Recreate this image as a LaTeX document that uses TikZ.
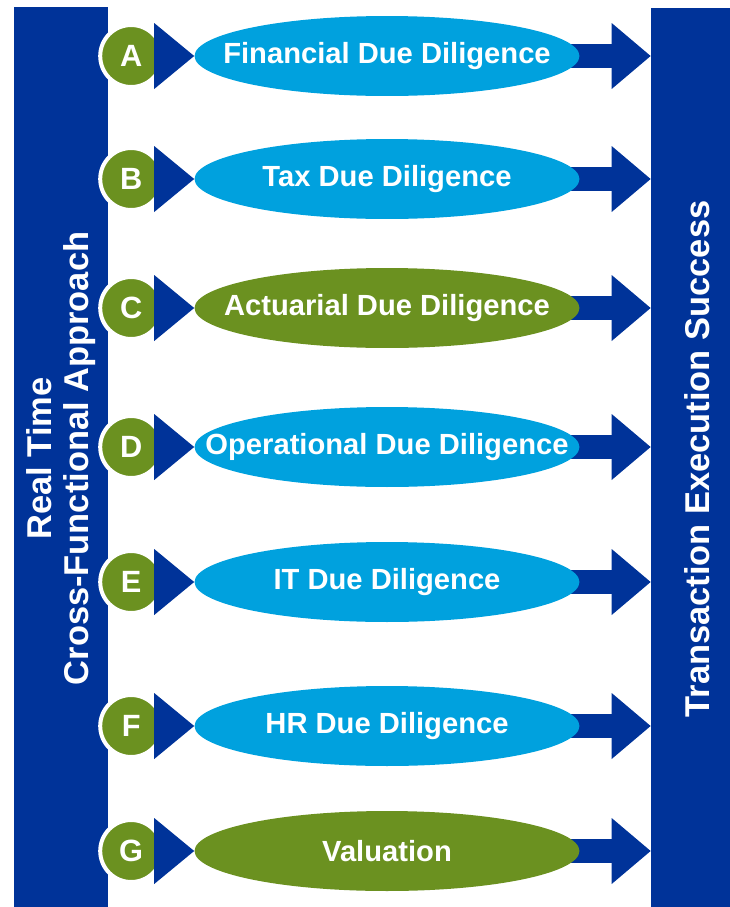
\documentclass[tikz,border=0pt]{standalone}
\usepackage{fontspec}
\setmainfont{Liberation Sans}
\usetikzlibrary{shapes.geometric,arrows.meta,positioning,backgrounds}
\definecolor{dblue}{RGB}{0,51,153}
\definecolor{lblue}{RGB}{0,161,222}
\definecolor{dgreen}{RGB}{107,145,32}

\tikzset{
  sidebar/.style={fill=dblue, rotate=90, inner sep=0pt, text=white, align=center,
    font=\fontsize{19.6}{21}\selectfont\bfseries},
  dd/.style={ellipse, minimum width=7.7cm, minimum height=1.6cm, inner sep=0pt},
  ddtext/.style={text=white, font=\fontsize{16.6}{20}\selectfont\bfseries},
  badge/.style={circle, fill=dgreen, draw=white, line width=0.08cm, minimum size=1.24cm,
    inner sep=0pt, outer sep=0pt, text=white, font=\fontsize{17.5}{20}\selectfont\bfseries},
  bigarrow/.style={draw=dblue, line width=0.48cm,
    -{Triangle[width=1.32cm,length=0.78cm,line width=0pt]}}
}

\begin{document}
\begin{tikzpicture}[x=0.02cm,y=-0.02cm]
\useasboundingbox (0,0) rectangle (730,907);

% the two side bars
\node[sidebar, minimum width=18.06cm, minimum height=1.88cm] (rtc) at (61,458.5)
  {Real Time\\Cross-Functional Approach};
\node[sidebar, minimum width=18.04cm, minimum height=1.84cm] (tes) at (697,459)
  {Transaction Execution Success};

% one ellipse per workstream
\node[dd, fill=lblue, label={[ddtext]center:Financial Due Diligence}] (fin) at (387,56) {};
\node[dd, fill=lblue, label={[ddtext]center:Tax Due Diligence}] (tax) at (387,179) {};
\node[dd, fill=dgreen, label={[ddtext]center:Actuarial Due Diligence}] (act) at (387,308) {};
\node[dd, fill=lblue, label={[ddtext]center:Operational Due Diligence}] (ops) at (387,447) {};
\node[dd, fill=lblue, label={[ddtext]center:IT Due Diligence}] (itd) at (387,582) {};
\node[dd, fill=lblue, label={[ddtext]center:HR Due Diligence}] (hrd) at (387,726) {};
\node[dd, fill=dgreen, label={[ddtext]center:Valuation}] (val) at (387,851) {};

% letters
\node[badge, left=0.64cm of fin] (ba) {A};
\node[badge, left=0.64cm of tax] (bb) {B};
\node[badge, left=0.64cm of act] (bc) {C};
\node[badge, left=0.64cm of ops] (bd) {D};
\node[badge, left=0.64cm of itd] (be) {E};
\node[badge, left=0.64cm of hrd] (bf) {F};
\node[badge, left=0.64cm of val] (bg) {G};

% chevrons into the ellipses
\fill[dblue] (fin.west) -- ++(-40,-33) -- ++(0,66) -- cycle;
\fill[dblue] (tax.west) -- ++(-40,-33) -- ++(0,66) -- cycle;
\fill[dblue] (act.west) -- ++(-40,-33) -- ++(0,66) -- cycle;
\fill[dblue] (ops.west) -- ++(-40,-33) -- ++(0,66) -- cycle;
\fill[dblue] (itd.west) -- ++(-40,-33) -- ++(0,66) -- cycle;
\fill[dblue] (hrd.west) -- ++(-40,-33) -- ++(0,66) -- cycle;
\fill[dblue] (val.west) -- ++(-40,-33) -- ++(0,66) -- cycle;

% arrows to the right bar, kept behind the ellipses
\begin{scope}[on background layer]
\draw[bigarrow] (fin.center) -- (fin.center -| tes.north);
\draw[bigarrow] (tax.center) -- (tax.center -| tes.north);
\draw[bigarrow] (act.center) -- (act.center -| tes.north);
\draw[bigarrow] (ops.center) -- (ops.center -| tes.north);
\draw[bigarrow] (itd.center) -- (itd.center -| tes.north);
\draw[bigarrow] (hrd.center) -- (hrd.center -| tes.north);
\draw[bigarrow] (val.center) -- (val.center -| tes.north);
\end{scope}
\end{tikzpicture}
\end{document}
